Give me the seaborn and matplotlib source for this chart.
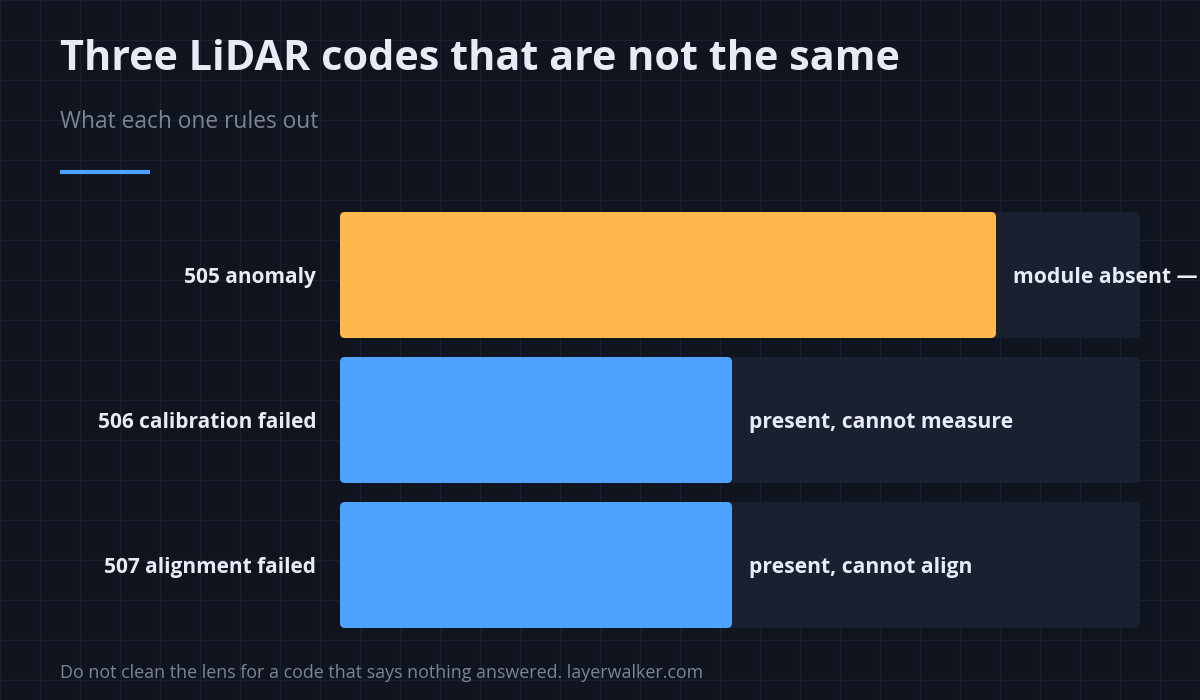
import matplotlib
matplotlib.use("Agg")
import matplotlib.pyplot as plt
import seaborn as sns
import pandas as pd
from matplotlib.patches import FancyBboxPatch

codes = ["505 anomaly", "506 calibration failed", "507 alignment failed"]
values = [82, 49, 49]
meanings = ["module absent \u2014", "present, cannot measure", "present, cannot align"]
bar_colors = ["#ffb84d", "#4da3ff", "#4da3ff"]
track_max = 100

BG = "#10141f"
GRID = "#1b2030"
TRACK = "#19202f"
TEXT = "#e6ebf5"
MUTED = "#7c8596"
FONT = ["Open Sans", "DejaVu Sans"]

sns.set_theme(style="dark")
plt.rcParams["font.family"] = FONT

W, H = 1200, 700
fig = plt.figure(figsize=(12, 7), dpi=100, facecolor=BG)

# background grid over the whole canvas
bg = fig.add_axes([0, 0, 1, 1])
bg.set_facecolor(BG)
bg.set_xlim(0, W)
bg.set_ylim(H, 0)
for gx in range(0, W + 1, 40):
    bg.axvline(gx, color=GRID, lw=1, zorder=0)
for gy in range(0, H + 1, 40):
    bg.axhline(gy, color=GRID, lw=1, zorder=0)
bg.axis("off")

# header text
bg.text(60, 70, "Three LiDAR codes that are not the same", color=TEXT,
        fontsize=29.8, fontweight="bold", va="baseline", ha="left")
bg.text(60, 128, "What each one rules out", color=MUTED, fontsize=16.4,
        va="baseline", ha="left")
bg.plot([60, 150], [171.5, 171.5], color="#4da3ff", lw=3, solid_capstyle="butt")
bg.text(60, 678, "Do not clean the lens for a code that says nothing answered. layerwalker.com",
        color=MUTED, fontsize=12.9, va="baseline", ha="left")

# bar area
left, right, top, bottom = 340, 1140, 212, 628
ax = fig.add_axes([left / W, (H - bottom) / H, (right - left) / W, (bottom - top) / H])
ax.patch.set_alpha(0)

df = pd.DataFrame({"code": codes, "value": values, "track": [track_max] * len(codes)})
bar_w = 126 / 145
sns.barplot(data=df, y="code", x="track", color=TRACK, width=bar_w, ax=ax,
            orient="h", saturation=1)
sns.barplot(data=df, y="code", x="value", hue="code", palette=bar_colors, width=bar_w,
            ax=ax, orient="h", saturation=1, legend=False)

ax.set_xlim(0, track_max)
ax.set_ylim(len(codes) - 1 + bar_w / 2, -bar_w / 2)

# swap plain rectangles for rounded ones
px_x = (right - left) / track_max
px_y = (bottom - top) / (len(codes) - 1 + bar_w)
radius = 5 / px_x
for p in list(ax.patches):
    x0, y0 = p.get_x(), p.get_y()
    w, h = p.get_width(), p.get_height()
    r = FancyBboxPatch((x0, y0), w, h,
                       boxstyle=f"round,pad=0,rounding_size={radius}",
                       mutation_aspect=px_x / px_y,
                       facecolor=p.get_facecolor(), edgecolor="none", zorder=p.get_zorder())
    p.remove()
    ax.add_patch(r)

for i, (c, v, m) in enumerate(zip(codes, values, meanings)):
    ax.annotate(c, xy=(0, i), xytext=(-24, 0), textcoords="offset pixels",
                ha="right", va="center_baseline", color=TEXT, fontsize=15,
                fontweight="bold", annotation_clip=False)
    ax.annotate(m, xy=(v, i), xytext=(17, 0), textcoords="offset pixels",
                ha="left", va="center_baseline", color=TEXT, fontsize=15.2,
                fontweight="bold", annotation_clip=False)

ax.set_xlabel("")
ax.set_ylabel("")
ax.set_xticks([])
ax.set_yticks([])
for s in ax.spines.values():
    s.set_visible(False)
ax.grid(False)

fig.savefig("out.png", dpi=100, facecolor=BG)
